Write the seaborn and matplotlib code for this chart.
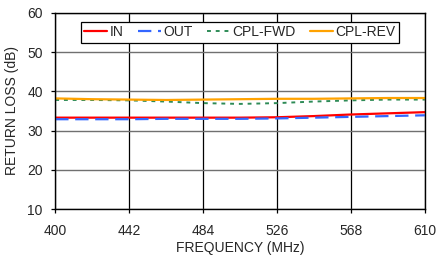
import numpy as np
import pandas as pd
import matplotlib
matplotlib.use('Agg')
import matplotlib.pyplot as plt
import seaborn as sns

sns.set_style('white')
plt.rcParams['font.family'] = ['Liberation Sans', 'DejaVu Sans']

freq = [400, 421, 442, 463, 484, 505, 526, 547, 568, 589, 610]
rl_in = [33.3, 33.3, 33.3, 33.3, 33.3, 33.3, 33.4, 33.7, 34.1, 34.4, 34.7]
rl_out = [32.9, 32.9, 32.9, 33.0, 33.0, 33.0, 33.1, 33.3, 33.5, 33.7, 33.9]
rl_fwd = [37.8, 37.8, 37.7, 37.4, 37.0, 36.8, 37.0, 37.4, 37.7, 37.9, 37.9]
rl_rev = [38.2, 38.0, 37.9, 37.8, 37.9, 38.0, 38.1, 38.1, 38.2, 38.3, 38.3]
xticks = [400, 442, 484, 526, 568, 610]
yticks = [10, 20, 30, 40, 50, 60]

fig, ax = plt.subplots(figsize=(4.38, 2.56), dpi=100)
fig.subplots_adjust(left=0.126, right=0.97, top=0.95, bottom=0.183)

# 四条曲线
sns.lineplot(x=freq, y=rl_in, ax=ax, color='#ff0000', lw=1.6, label='IN')
sns.lineplot(x=freq, y=rl_out, ax=ax, color='#3366ff', lw=1.6, label='OUT',
             linestyle=(0, (6, 3)))
sns.lineplot(x=freq, y=rl_fwd, ax=ax, color='#2e8b57', lw=1.4, label='CPL-FWD',
             linestyle=(0, (2, 2.5)))
sns.lineplot(x=freq, y=rl_rev, ax=ax, color='#ffa200', lw=1.6, label='CPL-REV')

ax.set_xlim(400, 610)
ax.set_ylim(10, 60)
ax.set_xticks(xticks)
ax.set_yticks(yticks)
ax.xaxis.grid(True, color='black', lw=0.9)
ax.yaxis.grid(True, color='#707070', lw=1.0)
for s in ax.spines.values():
    s.set_color('black')
    s.set_linewidth(1.0)
ax.tick_params(axis='both', labelsize=10, length=3, width=0.9, color='black',
               direction='out', bottom=True, left=True)
ax.tick_params(axis='x', pad=8)
ax.tick_params(axis='y', pad=6)
ax.set_xlabel('FREQUENCY (MHz)', fontsize=10, labelpad=1.5)
ax.set_ylabel('RETURN LOSS (dB)', fontsize=10, labelpad=6)

leg = ax.legend(loc='upper center', ncol=4, fontsize=10, frameon=True,
                fancybox=False, edgecolor='black', framealpha=1,
                bbox_to_anchor=(0.50, 0.955), handlelength=1.65,
                handletextpad=0.2, columnspacing=1.0, borderpad=0.25,
                borderaxespad=0)
leg.get_frame().set_linewidth(0.9)

plt.savefig('out.png', dpi=100)
